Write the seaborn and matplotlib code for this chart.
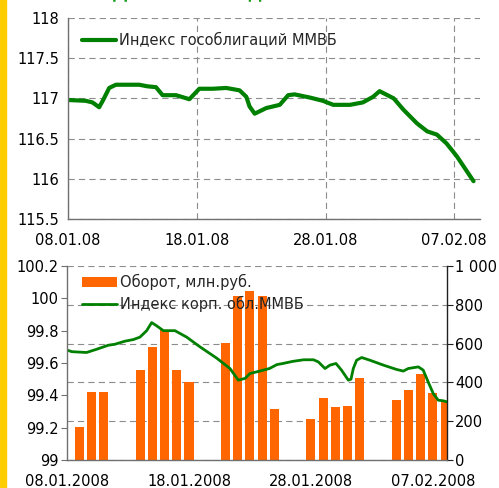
import matplotlib
matplotlib.use("Agg")
import matplotlib.pyplot as plt
from matplotlib.patches import Rectangle
import seaborn as sns
import numpy as np

# ---------------- data (day offsets from 08.01.2008) ----------------
gov_days = [0, 1.38, 1.9, 2.42, 2.73, 3.2, 3.72, 5.53, 6.18, 6.83, 7.35, 8.39, 9.43,
            10.2, 11.25, 12.29, 13.33, 13.85, 14.1, 14.5, 15.4, 16.45, 17.1, 17.6,
            18.8, 19.8, 20.6, 21.9, 22.9, 23.7, 24.2, 25.3, 26.05, 27.1, 27.9,
            28.65, 29.4, 30.2, 31.5]
gov_vals = [116.98, 116.97, 116.95, 116.89, 116.98, 117.13, 117.17, 117.17, 117.15,
            117.14, 117.04, 117.04, 116.99, 117.12, 117.12, 117.13, 117.10, 117.02,
            116.90, 116.81, 116.88, 116.92, 117.04, 117.05, 117.01, 116.97, 116.92,
            116.92, 116.95, 117.02, 117.09, 117.00, 116.86, 116.69, 116.59, 116.55,
            116.44, 116.28, 115.97]

corp_days = [0, 0.4, 1.6, 2.43, 3.39, 3.93, 4.75, 5.44, 5.98, 6.53, 6.94, 7.35, 7.9,
             8.85, 9.81, 10.9, 12.27, 13.36, 14.04, 14.6, 15.0, 15.8, 16.6, 17.2,
             17.7, 18.5, 19.4, 20.2, 20.6, 21.15, 21.56, 22.05, 22.5, 23.06, 23.28,
             23.47, 23.74, 24.15, 24.84, 25.93, 27.02, 27.57, 27.98, 28.8, 29.2,
             29.6, 30.03, 30.43, 30.85, 31.15]
corp_vals = [99.68, 99.67, 99.665, 99.685, 99.71, 99.716, 99.735, 99.745, 99.76, 99.80,
             99.85, 99.83, 99.80, 99.80, 99.76, 99.70, 99.63, 99.566, 99.494, 99.505,
             99.535, 99.55, 99.566, 99.59, 99.597, 99.61, 99.62, 99.62, 99.607,
             99.566, 99.587, 99.597, 99.556, 99.494, 99.50, 99.566, 99.617, 99.634,
             99.617, 99.587, 99.56, 99.55, 99.566, 99.576, 99.556, 99.484, 99.41,
             99.37, 99.366, 99.36]

bar_days = [1, 2, 3, 6, 7, 8, 9, 10, 13, 14, 15, 16, 17, 20, 21, 22, 23, 24, 27, 28, 29, 30, 31]
bar_vals = [170, 352, 352, 463, 583, 669, 463, 403, 605, 846, 870, 847, 261,
            209, 322, 271, 278, 422, 307, 360, 443, 343, 300]

tick_days = [0, 10, 20, 30]
top_xlabels = ["08.01.08", "18.01.08", "28.01.08", "07.02.08"]
bot_xlabels = ["08.01.2008", "18.01.2008", "28.01.2008", "07.02.2008"]
top_yticks = [115.5, 116, 116.5, 117, 117.5, 118]
left_yticks = [99, 99.2, 99.4, 99.6, 99.8, 100, 100.2]
right_yticks = [0, 200, 400, 600, 800, 1000]
right_ylabels = ["0", "200", "400", "600", "800", "1 000"]

label_gov = "Индекс гособлигаций ММВБ"
label_turn = "Оборот, млн.руб."
label_corp = "Индекс корп. обл.ММВБ"
title_text = "Динамика индексов ММВБ"

# ---------------- style ----------------
sns.set_style("white")
plt.rcParams['font.family'] = ['DejaVu Sans']
plt.rcParams['font.size'] = 10.5
plt.rcParams['lines.scale_dashes'] = False

GREEN = "#008000"
ORANGE = "#FF6600"
GRID = dict(color="#8c8c8c", linestyle=(0, (4.5, 3)), linewidth=0.8)
SPINE = "#707070"

fig = plt.figure(figsize=(4.99, 4.88), dpi=100)
fig.patch.set_facecolor("white")
fig.patches.append(Rectangle((0, 0), 6 / 499, 1, transform=fig.transFigure,
                             color="#FFCC00", zorder=0))
# title lies almost entirely above the top edge: only descenders show
fig.text(112 / 499, 1.0 + 1.5 / 488, title_text, color="#1a9e1a", fontsize=13,
         fontweight="bold", va="baseline", ha="left")


def style_axis(ax):
    ax.tick_params(axis="both", direction="out", length=4, width=0.8,
                   color=SPINE, labelsize=10.5, labelcolor="black")
    ax.tick_params(axis="y", pad=2)
    ax.tick_params(axis="x", pad=6)


# ---------------- top chart ----------------
ax1 = fig.add_axes([68 / 499, 1 - 219 / 488, 412 / 499, 201 / 488])
sns.lineplot(x=gov_days, y=gov_vals, ax=ax1, color=GREEN, linewidth=3,
             label=label_gov, legend=False)
ax1.lines[0].set_solid_joinstyle("round")
ax1.set_xlim(0, 32)
ax1.set_ylim(115.5, 118)
ax1.set_yticks(top_yticks)
ax1.set_yticklabels([f"{v:g}" for v in top_yticks])
ax1.set_xticks(tick_days)
ax1.set_xticklabels(top_xlabels)
ax1.grid(True, axis="both", **GRID)
ax1.set_axisbelow(True)
for s in ["top", "right"]:
    ax1.spines[s].set_visible(False)
for s in ["left", "bottom"]:
    ax1.spines[s].set_color(SPINE)
    ax1.spines[s].set_linewidth(1.0)
style_axis(ax1)
ax1.set_xlabel("")
ax1.set_ylabel("")
ax1.legend(loc="upper left", bbox_to_anchor=(0.035, 0.925), frameon=False,
           borderpad=0, borderaxespad=0, handlelength=2.3, handletextpad=0.2,
           fontsize=10.5)

# ---------------- bottom chart ----------------
axl = fig.add_axes([67 / 499, 1 - 460 / 488, 380 / 499, 194 / 488])
axr = axl.twinx()
axl.set_zorder(2)
axr.set_zorder(1)
axl.patch.set_visible(False)

sns.barplot(x=bar_days, y=bar_vals, ax=axr, native_scale=True, color=ORANGE,
            saturation=1, width=0.74, errorbar=None, linewidth=0)
axr.set_ylim(0, 1000)
axr.set_yticks(right_yticks)
axr.set_yticklabels(right_ylabels)
axr.grid(True, axis="both", **GRID)
axr.set_axisbelow(True)

sns.lineplot(x=corp_days, y=corp_vals, ax=axl, color=GREEN, linewidth=2,
             legend=False)
axl.lines[0].set_solid_joinstyle("round")
axl.set_ylim(99, 100.2)
axl.set_yticks(left_yticks)
axl.set_yticklabels([f"{v:g}" for v in left_yticks])

for a in (axl, axr):
    a.set_xlim(0, 31.15)
    a.set_xlabel("")
    a.set_ylabel("")
axl.set_xticks(tick_days)
axl.set_xticklabels(bot_xlabels)
axr.set_xticks(tick_days)
axr.tick_params(axis="x", bottom=False, labelbottom=False)
axr.xaxis.grid(True, **GRID)

for s in ["top", "right"]:
    axl.spines[s].set_visible(False)
for s in ["left", "bottom"]:
    axl.spines[s].set_color(SPINE)
    axl.spines[s].set_linewidth(1.0)
for s in ["top", "left", "bottom"]:
    axr.spines[s].set_visible(False)
axr.spines["right"].set_color("#202020")
axr.spines["right"].set_linewidth(1.0)
style_axis(axl)
style_axis(axr)
axr.tick_params(axis="y", pad=2, color="#202020")

axl.legend([axr.containers[0], axl.lines[0]], [label_turn, label_corp],
           loc="upper left", bbox_to_anchor=(0.039, 0.96), frameon=False,
           borderpad=0, borderaxespad=0, handlelength=2.4, handletextpad=0.2,
           labelspacing=0.42, fontsize=10.5)

fig.savefig("out.png", dpi=100, facecolor="white")
